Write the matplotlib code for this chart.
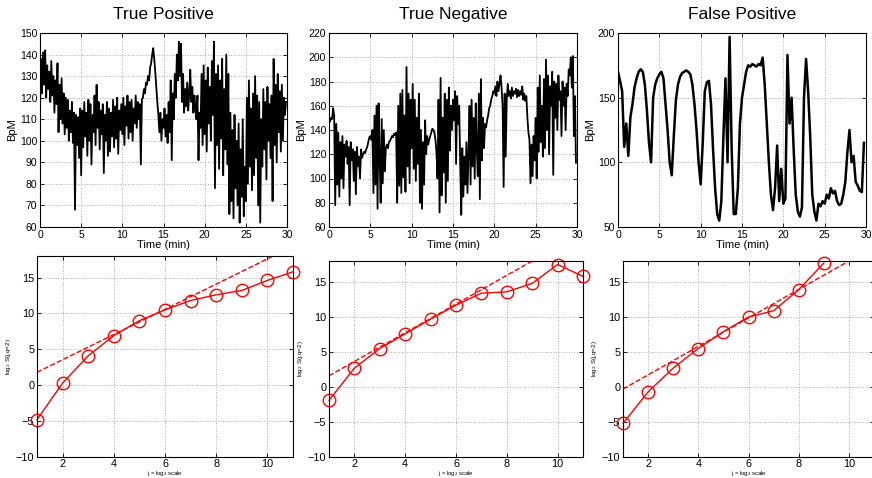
import numpy as np
import matplotlib
matplotlib.use("Agg")
import matplotlib.pyplot as plt

plt.rcParams['font.family'] = ['Liberation Sans', 'DejaVu Sans']

titles = ["True Positive", "True Negative", "False Positive"]

# heart rate traces (BpM), 8 samples per minute for TP / TN, 4 per minute for FP
tp_bpm = [
    115, 138, 122, 141, 126, 142, 120, 135,
    124, 132, 118, 137, 121, 130, 113, 128,
    117, 136, 104, 126, 110, 129, 108, 122,
    103, 120, 106, 119, 100, 114, 104, 118,
    99, 113, 68, 112, 98, 111, 92, 115,
    84, 114, 97, 118, 102, 113, 93, 119,
    100, 117, 89, 112, 104, 121, 98, 126,
    106, 118, 96, 114, 103, 117, 85, 112,
    100, 118, 93, 115, 95, 113, 102, 119,
    97, 116, 101, 120, 94, 114, 105, 117,
    103, 120, 98, 116, 107, 121, 101, 118,
    104, 119, 100, 115, 108, 121, 106, 118,
    110, 117, 89, 119, 120, 124, 122, 127,
    126, 130, 128, 134, 136, 140, 143, 138,
    132, 125, 118, 112, 104, 113, 100, 110,
    106, 115, 102, 112, 99, 118, 104, 128,
    91, 122, 110, 131, 120, 140, 128, 146,
    130, 145, 118, 131, 113, 124, 116, 127,
    114, 122, 133, 118, 125, 113, 121, 115,
    110, 121, 91, 113, 106, 131, 98, 135,
    103, 128, 95, 134, 108, 125, 100, 137,
    112, 146, 78, 131, 98, 135, 87, 128,
    101, 138, 84, 124, 96, 140, 89, 131,
    66, 113, 72, 105, 64, 112, 78, 100,
    70, 108, 62, 96, 74, 110, 65, 88,
    72, 120, 80, 128, 88, 115, 77, 122,
    84, 130, 92, 121, 70, 118, 62, 110,
    88, 124, 96, 118, 82, 125, 100, 117,
    92, 121, 72, 138, 98, 126, 90, 131,
    104, 123, 95, 126, 100, 120, 112, 118,
]

tn_bpm = [
    148, 147, 150, 149, 158, 152, 78, 145,
    95, 138, 85, 130, 100, 135, 92, 128,
    118, 131, 112, 126, 78, 130, 115, 124,
    98, 122, 87, 126, 110, 118, 100, 124,
    117, 120, 122, 121, 124, 126, 130, 134,
    135, 132, 140, 88, 152, 95, 160, 75,
    162, 118, 80, 149, 96, 140, 106, 125,
    128, 125, 130, 131, 133, 135, 134, 137,
    136, 138, 80, 160, 94, 170, 88, 173,
    101, 152, 89, 192, 110, 170, 96, 165,
    125, 178, 108, 165, 98, 150, 112, 170,
    80, 140, 75, 130, 95, 148, 120, 135,
    128, 132, 135, 138, 141, 140, 138, 132,
    122, 100, 165, 72, 183, 86, 150, 105,
    170, 80, 165, 98, 175, 123, 160, 140,
    165, 148, 172, 112, 168, 145, 160, 110,
    70, 125, 85, 118, 95, 130, 88, 120,
    160, 95, 165, 110, 150, 100, 162, 125,
    102, 170, 83, 182, 115, 150, 125, 145,
    142, 148, 152, 158, 160, 165, 168, 172,
    170, 176, 168, 180, 172, 178, 185, 175,
    160, 93, 170, 118, 165, 178, 168, 172,
    166, 175, 168, 172, 170, 174, 167, 173,
    168, 172, 169, 176, 165, 170, 164, 168,
    150, 138, 132, 96, 128, 102, 135, 115,
    150, 100, 175, 122, 185, 130, 160, 118,
    182, 125, 198, 140, 185, 120, 176, 160,
    188, 103, 180, 150, 178, 140, 185, 165,
    172, 135, 180, 160, 175, 140, 178, 168,
    190, 185, 200, 175, 201, 135, 168, 113,
]

fp_bpm = [
    170, 163, 155, 112, 130, 105, 135, 145,
    158, 165, 170, 172, 170, 160, 140, 115,
    100, 150, 160, 165, 168, 170, 165, 145,
    125, 100, 90, 120, 148, 160, 166, 169,
    170, 171, 170, 168, 160, 145, 125, 100,
    83, 115, 155, 162, 163, 145, 110, 80,
    60, 55, 70, 120, 165, 100, 197, 110,
    60, 60, 80, 130, 150, 160, 170, 175,
    174, 176, 175, 174, 176, 175, 181, 160,
    130, 100, 75, 63, 80, 113, 70, 95,
    68, 72, 183, 130, 150, 110, 75, 62,
    58, 65, 150, 180, 155, 120, 75, 62,
    55, 68, 66, 70, 68, 75, 72, 80,
    76, 78, 70, 67, 68, 75, 85, 108,
    125, 100, 105, 85, 82, 78, 77, 115,
]

traces = [tp_bpm, tn_bpm, fp_bpm]
trace_rate = [8, 8, 4]  # samples per minute
trace_ylim = [(60, 150), (60, 220), (50, 200)]
trace_ystep = [10, 20, 50]

# structure function log2 S(j, q=2) against scale j
scales_tp = [1, 2, 3, 4, 5, 6, 7, 8, 9, 10, 11]
logs_tp = [-4.8, 0.3, 4.1, 6.9, 9.0, 10.5, 11.8, 12.6, 13.2, 14.6, 15.8]
scales_tn = [1, 2, 3, 4, 5, 6, 7, 8, 9, 10, 11]
logs_tn = [-1.9, 2.7, 5.5, 7.6, 9.7, 11.7, 13.4, 13.6, 14.8, 17.5, 15.8]
scales_fp = [1, 2, 3, 4, 5, 6, 7, 8, 9]
logs_fp = [-5.2, -0.7, 2.7, 5.5, 7.9, 10.0, 10.9, 13.9, 17.7]

# linear fit (dashed), given by its end points
fit_x = [[1, 11], [1, 9], [1, 10]]
fit_y = [[1.8, 19.35], [1.6, 18.0], [-0.3, 18.0]]

scales = [scales_tp, scales_tn, scales_fp]
logs = [logs_tp, logs_tn, logs_fp]

fig = plt.figure(figsize=(8.72, 4.78), dpi=100)

top_pos = [
    [40 / 872, 251 / 478, 247 / 872, 194 / 478],
    [329 / 872, 251 / 478, 248 / 872, 194 / 478],
    [618 / 872, 251 / 478, 248 / 872, 194 / 478],
]
bot_pos = [
    [37 / 872, 21 / 478, 256 / 872, 201 / 478],
    [329 / 872, 21 / 478, 254 / 872, 196 / 478],
    [623 / 872, 21 / 478, 251 / 872, 196 / 478],
]


def style(ax, fs):
    ax.grid(True, linestyle=':', color='#aaaaaa', linewidth=0.7)
    ax.tick_params(direction='in', top=True, right=True, labelsize=fs,
                   length=3, width=0.6, pad=2)
    for s in ax.spines.values():
        s.set_linewidth(0.8)


for i in range(3):
    ax = fig.add_axes(top_pos[i])
    y = np.array(traces[i], dtype=float)
    t = np.arange(len(y)) / trace_rate[i]
    ax.plot(t, y, color='black', linewidth=1.3 if i < 2 else 1.8)
    ax.set_xlim(0, 30)
    ax.set_ylim(*trace_ylim[i])
    ax.set_xticks(np.arange(0, 31, 5))
    lo, hi = trace_ylim[i]
    ax.set_yticks(np.arange(lo, hi + 1, trace_ystep[i]))
    ax.set_xlabel("Time (min)", fontsize=8, labelpad=0)
    ax.set_ylabel("BpM", fontsize=8, labelpad=2)
    ax.set_title(titles[i], fontsize=12.5, pad=10)
    style(ax, 7.5)

for i in range(3):
    ax = fig.add_axes(bot_pos[i])
    ax.plot(fit_x[i], fit_y[i], color='red', linestyle='--', linewidth=1)
    ax.plot(scales[i], logs[i], color='red', marker='o', markersize=9,
            markerfacecolor='none', markeredgewidth=1, linewidth=1,
            clip_on=False)
    ax.set_xlim(1, 11)
    ax.set_ylim(-10, 18)
    ax.set_xticks([2, 4, 6, 8, 10])
    ax.set_yticks([-10, -5, 0, 5, 10, 15])
    ax.set_ylabel("log$_2$ S(j,q=2)", fontsize=4.5, labelpad=2)
    style(ax, 7.8)
    ax.tick_params(axis='x', pad=1.5)
    ax.set_xlabel("j = log$_2$ scale", fontsize=4.2)
    ax.xaxis.set_label_coords(0.5, -12 / 478 / bot_pos[i][3])

fig.savefig("out.png", dpi=100)
